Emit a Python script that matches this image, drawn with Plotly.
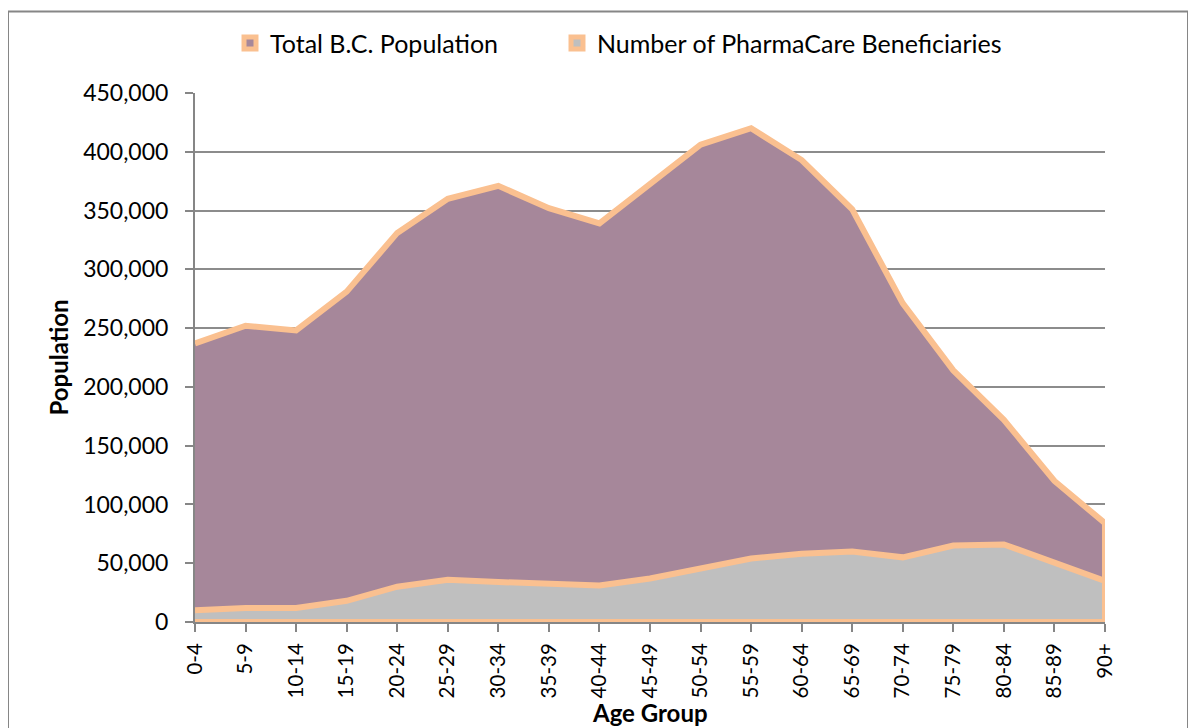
import plotly.graph_objects as go

age_groups = ["0-4", "5-9", "10-14", "15-19", "20-24", "25-29", "30-34", "35-39", "40-44",
              "45-49", "50-54", "55-59", "60-64", "65-69", "70-74", "75-79", "80-84", "85-89", "90+"]
total_population = [237000, 252000, 248000, 281000, 331000, 360000, 371000, 352000, 339000,
                    373000, 406000, 420000, 393000, 351000, 271000, 214000, 172000, 120000, 84000]
beneficiaries = [10000, 12000, 12000, 18000, 30000, 36000, 34000, 32000, 31000,
                 37000, 46000, 54000, 58000, 60000, 55000, 65000, 66000, 50000, 35000]

# page body has an 8px margin: compensate so the plot sits at screen x 195..1105, y 90..622
OFF = 8
W, H = 1196, 728
PX0, PX1, PY0, PY1 = 195, 1105, 90, 622
L = PX0 - OFF
T = PY0 - OFF
pw = PX1 - PX0
ph = PY1 - PY0
R = W - L - pw
B = H - T - ph
FONT = "Lato"
EDGE = "#FAC090"
PURPLE = "#A6879A"
GRAY = "#BFBFBF"

def polygon(vals):
    xs = list(age_groups) + list(reversed(age_groups))
    ys = list(vals) + [0] * len(vals)
    return xs, ys

def sx(px):  # screen x -> paper
    return (px - PX0) / pw

def sy(py):  # screen y -> paper
    return (PY1 - py) / ph

fig = go.Figure()
x1, y1 = polygon(total_population)
fig.add_trace(go.Scatter(x=x1, y=y1, mode="lines", fill="toself", name="Total B.C. Population",
                         fillcolor=PURPLE, line=dict(color=EDGE, width=6),
                         hoverinfo="skip", showlegend=False))
x2, y2 = polygon(beneficiaries)
fig.add_trace(go.Scatter(x=x2, y=y2, mode="lines", fill="toself", name="Number of PharmaCare Beneficiaries",
                         fillcolor=GRAY, line=dict(color=EDGE, width=6),
                         hoverinfo="skip", showlegend=False))
# legend entries (square swatches)
fig.add_trace(go.Scatter(x=[None], y=[None], mode="markers", name="Total B.C. Population",
                         marker=dict(symbol="square", size=12, color=PURPLE, line=dict(color=EDGE, width=6)),
                         legend="legend"))
fig.add_trace(go.Scatter(x=[None], y=[None], mode="markers", name="Number of PharmaCare Beneficiaries",
                         marker=dict(symbol="square", size=12, color=GRAY, line=dict(color=EDGE, width=6)),
                         legend="legend2"))

fig.add_shape(type="rect", xref="paper", yref="paper",
              x0=sx(8), x1=sx(1188), y0=sy(760), y1=sy(8),
              line=dict(color="#868686", width=2), fillcolor="rgba(0,0,0,0)", layer="below")

fig.add_annotation(text="<b>Age Group</b>", xref="paper", yref="paper",
                   x=sx(650), y=sy(713), xanchor="center", yanchor="middle",
                   showarrow=False, font=dict(family=FONT, size=24, color="#000000"))

leg_common = dict(orientation="h", xanchor="left", yanchor="middle", y=sy(40),
                  font=dict(family=FONT, size=25, color="#000000"), bgcolor="rgba(0,0,0,0)",
                  itemwidth=30)

fig.update_layout(
    width=W, height=H,
    margin=dict(l=L, r=R, t=T, b=B, pad=0),
    paper_bgcolor="white", plot_bgcolor="white",
    font=dict(family=FONT, size=20, color="#000000"),
    showlegend=True,
    legend=dict(x=sx(230), **leg_common),
    legend2=dict(x=sx(557), **leg_common),
    xaxis=dict(type="category", range=[0, len(age_groups) - 1], tickangle=-90,
               showgrid=False, showline=True, linecolor="#868686", linewidth=2,
               ticks="outside", ticklen=8, tickcolor="#868686", tickwidth=1.5,
               tickfont=dict(family=FONT, size=20.5), ticklabelstandoff=3,
               zeroline=False),
    yaxis=dict(range=[0, 450000], dtick=50000, tickformat=",",
               showgrid=True, gridcolor="#8C8C8C", gridwidth=1.5,
               showline=True, linecolor="#868686", linewidth=2,
               ticks="outside", ticklen=8, tickcolor="#868686", tickwidth=1.5,
               tickfont=dict(family=FONT, size=23), ticklabelstandoff=12,
               title=dict(text="<b>Population</b>", font=dict(family=FONT, size=24), standoff=8),
               zeroline=False),
)

fig.write_html("out.html")
